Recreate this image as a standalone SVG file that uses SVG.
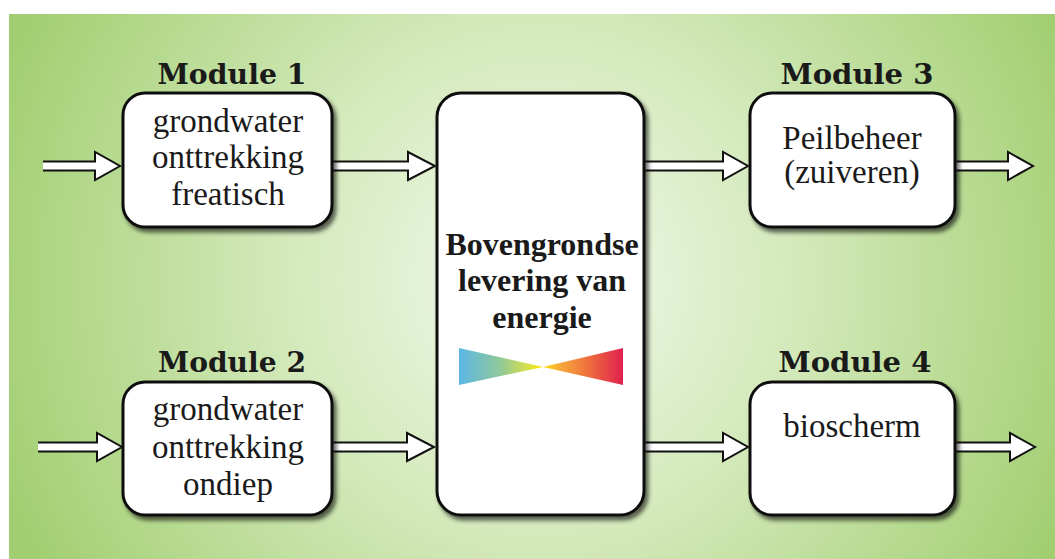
<svg xmlns="http://www.w3.org/2000/svg" width="1055" height="559" viewBox="0 0 1055 559">
<defs>
<radialGradient id="bg" gradientUnits="userSpaceOnUse" cx="540" cy="280" r="580">
<stop offset="0" stop-color="#f2f9ee"/>
<stop offset="0.45" stop-color="#d3e9ba"/>
<stop offset="1" stop-color="#a1ce70"/>
</radialGradient>
<linearGradient id="rainbow" gradientUnits="userSpaceOnUse" x1="459" y1="0" x2="623" y2="0">
<stop offset="0" stop-color="#5bb6e6"/>
<stop offset="0.25" stop-color="#8fc89a"/>
<stop offset="0.42" stop-color="#d6e04a"/>
<stop offset="0.5" stop-color="#fde400"/>
<stop offset="0.62" stop-color="#f7a83a"/>
<stop offset="0.8" stop-color="#ee6a3e"/>
<stop offset="1" stop-color="#e0204e"/>
</linearGradient>
<filter id="shadow" x="-10%" y="-10%" width="125%" height="125%">
<feDropShadow dx="3" dy="4" stdDeviation="2" flood-color="#000" flood-opacity="0.6"/>
</filter>
</defs>
<style>
.box{fill:#fff;stroke:#111;stroke-width:3;filter:url(#shadow)}
.lbl{font-family:"DejaVu Serif",serif;font-weight:bold;font-size:28px;fill:#1a1a1a;text-anchor:middle}
.txt{font-family:"Liberation Serif","Times New Roman",serif;font-size:33px;fill:#1a1a1a;text-anchor:middle}
.btxt{font-family:"Liberation Serif","Times New Roman",serif;font-size:32px;font-weight:bold;fill:#1a1a1a;text-anchor:middle}
.arr{fill:#fff;stroke:#111;stroke-width:2;stroke-linejoin:miter}
</style>
<rect x="9" y="14" width="1046" height="545" fill="url(#bg)"/>

<g id="connectors">
<path class="arr" d="M43,161.5 H95 V152 L120,166 L95,180 V170.5 H43"/>
<path class="arr" d="M333,161.5 H408 V152 L435,166 L408,180 V170.5 H333"/>
<path class="arr" d="M645,161.5 H723 V152 L748,166 L723,180 V170.5 H645"/>
<path class="arr" d="M956,161.5 H1008 V152 L1033,166 L1008,180 V170.5 H956"/>
<path class="arr" d="M38,442.5 H97 V433 L122,447 L97,461 V451.5 H38"/>
<path class="arr" d="M333,442.5 H407 V433 L434,447 L407,461 V451.5 H333"/>
<path class="arr" d="M645,442.5 H723 V433 L748,447 L723,461 V451.5 H645"/>
<path class="arr" d="M956,442.5 H1010 V433 L1035,447 L1010,461 V451.5 H956"/>
</g>

<g id="module1">
<text class="lbl" x="232" y="84" textLength="149" lengthAdjust="spacingAndGlyphs">Module 1</text>
<rect class="box" x="123" y="93" width="209" height="134" rx="22"/>
<text class="txt" x="228" y="132">grondwater</text>
<text class="txt" x="228" y="168">onttrekking</text>
<text class="txt" x="228" y="205">freatisch</text>
</g>

<g id="module2">
<text class="lbl" x="232" y="372" textLength="148" lengthAdjust="spacingAndGlyphs">Module 2</text>
<rect class="box" x="123" y="382" width="209" height="133" rx="22"/>
<text class="txt" x="228" y="420">grondwater</text>
<text class="txt" x="228" y="458">onttrekking</text>
<text class="txt" x="228" y="495">ondiep</text>
</g>

<g id="center">
<rect class="box" x="437" y="93" width="207" height="422" rx="24"/>
<text class="btxt" x="542" y="255">Bovengrondse</text>
<text class="btxt" x="542" y="291">levering van</text>
<text class="btxt" x="542" y="328">energie</text>
<polygon points="459,348 543,367 459,385" fill="url(#rainbow)"/>
<polygon points="623,348 543,367 623,385" fill="url(#rainbow)"/>
</g>

<g id="module3">
<text class="lbl" x="857" y="84" textLength="153" lengthAdjust="spacingAndGlyphs">Module 3</text>
<rect class="box" x="750" y="93" width="205" height="134" rx="22"/>
<text class="txt" x="852" y="149">Peilbeheer</text>
<text class="txt" x="852" y="183">(zuiveren)</text>
</g>

<g id="module4">
<text class="lbl" x="855" y="372" textLength="153" lengthAdjust="spacingAndGlyphs">Module 4</text>
<rect class="box" x="750" y="382" width="205" height="133" rx="22"/>
<text class="txt" x="852" y="437">bioscherm</text>
</g>
</svg>
